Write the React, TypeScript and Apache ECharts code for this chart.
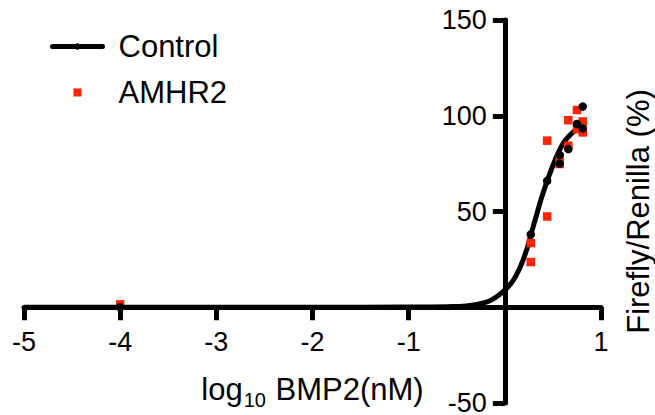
import React, { useEffect, useRef } from "react";
import * as echarts from "echarts";

// log10 BMP2 concentration (nM) and response (% Firefly/Renilla)
const controlX = [-4, 0.27, 0.44, 0.57, 0.57, 0.66, 0.75, 0.81, 0.81];
const controlY = [0, 38, 66, 79.5, 75, 82.6, 95.7, 104.8, 93.4];

const amhr2X = [-4, 0.27, 0.27, 0.44, 0.44, 0.57, 0.57, 0.66, 0.66, 0.75, 0.75, 0.81, 0.81];
const amhr2Y = [1.5, 33.5, 23.6, 87, 47.4, 78.3, 74.8, 97.7, 84.4, 103, 93, 97, 91.3];

// dose-response fit curve for Control
const fitX = [-5, -2, -1, -0.6, -0.4, -0.2, -0.1, 0, 0.1, 0.2, 0.3, 0.4, 0.5, 0.6, 0.7, 0.81];
const fitY = [0, 0, 0.1, 0.3, 0.7, 2.5, 5, 9, 15, 26, 43, 60, 74, 85, 91, 95.5];

const xTicks = { min: -5, max: 1, interval: 1 };
const yTicks = { min: -50, max: 150, interval: 50 };

const FONT = "Liberation Sans";
const RED = "#FF2300";
const TICK_FONT = 27;
const TITLE_FONT = 31;

const W = 655;
const H = 415;
const GRID = { left: 24, right: 54, top: 20, bottom: 12 };

// the axes cross at (0, 0): shift each axis line from the grid edge to zero
const plotW = W - GRID.left - GRID.right;
const plotH = H - GRID.top - GRID.bottom;
const yAxisOffset = -((0 - xTicks.min) / (xTicks.max - xTicks.min)) * plotW;
const xAxisOffset = -((0 - yTicks.min) / (yTicks.max - yTicks.min)) * plotH;

const zip = (xs: number[], ys: number[]) => xs.map((x, i) => [x, ys[i]]);

export default function App() {
  const ref = useRef<HTMLDivElement>(null);

  useEffect(() => {
    document.body.style.margin = "0";
    if (!ref.current) return;
    const chart = echarts.init(ref.current, undefined, { renderer: "svg" });
    chart.setOption({
      animation: false,
      backgroundColor: "#fff",
      textStyle: { fontFamily: FONT, color: "#000" },
      grid: { ...GRID, outerBoundsMode: "none", containLabel: false },
      legend: {
        data: [{ name: "Control" }, { name: "AMHR2", icon: "path://M0 0H10V10H0Z" }],
        orient: "vertical",
        left: 50,
        top: 31,
        padding: 0,
        itemWidth: 50,
        itemHeight: 8,
        itemGap: 15,
        symbolKeepAspect: true,
        textStyle: {
          fontFamily: FONT,
          fontSize: TITLE_FONT,
          color: "#000",
          padding: [0, 0, 0, 11],
        },
        lineStyle: { width: 5, cap: "round", color: "#000" },
      },
      xAxis: {
        type: "value",
        ...xTicks,
        z: 3,
        offset: xAxisOffset,
        splitLine: { show: false },
        axisLine: { onZero: false, lineStyle: { color: "#000", width: 5 } },
        axisTick: { length: 13, lineStyle: { color: "#000", width: 5 } },
        axisLabel: {
          fontFamily: FONT,
          fontSize: TICK_FONT,
          color: "#000",
          margin: 21,
          formatter: (v: number) => (v === 0 ? "" : String(v)),
        },
        name: "log{sub|10} BMP2(nM)",
        nameLocation: "middle",
        nameGap: 61,
        nameTextStyle: {
          fontFamily: FONT,
          fontSize: TITLE_FONT,
          color: "#000",
          rich: {
            sub: { fontFamily: FONT, fontSize: 20, color: "#000", padding: [22, 1, 0, 1] },
          },
        },
      },
      yAxis: {
        type: "value",
        ...yTicks,
        z: 3,
        offset: yAxisOffset,
        splitLine: { show: false },
        axisLine: { onZero: false, lineStyle: { color: "#000", width: 5 } },
        axisTick: { length: 12, lineStyle: { color: "#000", width: 5 } },
        axisLabel: {
          fontFamily: FONT,
          fontSize: TICK_FONT,
          lineHeight: 22,
          color: "#000",
          margin: 18,
          formatter: (v: number) => (v === 0 ? "" : String(v)),
        },
        name: "Firefly/Renilla (%)",
        nameLocation: "middle",
        nameGap: -149,
        nameTextStyle: { fontFamily: FONT, fontSize: TITLE_FONT, color: "#000" },
      },
      series: [
        {
          name: "Control",
          type: "line",
          data: zip(fitX, fitY),
          smooth: true,
          symbol: "circle",
          showSymbol: false,
          color: "#000",
          lineStyle: { color: "#000", width: 5 },
          itemStyle: { color: "#000" },
          z: 2,
        },
        {
          name: "AMHR2",
          type: "scatter",
          data: zip(amhr2X, amhr2Y),
          symbol: "rect",
          symbolSize: 8.5,
          itemStyle: { color: RED, opacity: 1 },
          z: 2,
        },
        {
          name: "Control",
          type: "scatter",
          data: zip(controlX, controlY),
          symbol: "circle",
          symbolSize: 8.5,
          itemStyle: { color: "#000", opacity: 1 },
          z: 2,
        },
      ],
    });
    return () => chart.dispose();
  }, []);

  return <div ref={ref} style={{ width: W, height: H }} />;
}
